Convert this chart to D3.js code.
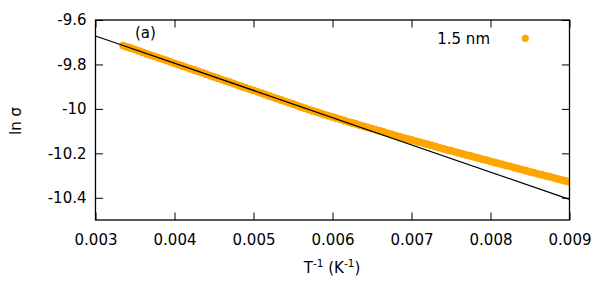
<!DOCTYPE html>
<html>
<head>
<meta charset="utf-8">
<script src="https://cdn.jsdelivr.net/npm/d3@7"></script>
<style>
  body { margin: 0; background: #fff; }
  svg text { font-family: "DejaVu Sans", sans-serif; fill: #000; }
</style>
</head>
<body>
<svg id="chart" width="600" height="300"></svg>
<script>
// ---- data ----
const xTicks = [0.003, 0.004, 0.005, 0.006, 0.007, 0.008, 0.009];
const xTickLabels = ["0.003", "0.004", "0.005", "0.006", "0.007", "0.008", "0.009"];
const yTicks = [-9.6, -9.8, -10, -10.2, -10.4];
const yTickLabels = ["-9.6", "-9.8", "-10", "-10.2", "-10.4"];
const seriesName = "1.5 nm";
const panelLabel = "(a)";

const invT = [
  0.00335, 0.00340, 0.00345, 0.00350, 0.00355, 0.00360, 0.00365, 0.00370, 0.00375, 0.00380,
  0.00385, 0.00390, 0.00395, 0.00400, 0.00405, 0.00410, 0.00415, 0.00420, 0.00425, 0.00430,
  0.00435, 0.00440, 0.00445, 0.00450, 0.00455, 0.00460, 0.00465, 0.00470, 0.00475, 0.00480,
  0.00485, 0.00490, 0.00495, 0.00500, 0.00505, 0.00510, 0.00515, 0.00520, 0.00525, 0.00530,
  0.00535, 0.00540, 0.00545, 0.00550, 0.00555, 0.00560, 0.00565, 0.00570, 0.00575, 0.00580,
  0.00585, 0.00590, 0.00595, 0.00600, 0.00605, 0.00610, 0.00615, 0.00620, 0.00625, 0.00630,
  0.00635, 0.00640, 0.00645, 0.00650, 0.00655, 0.00660, 0.00665, 0.00670, 0.00675, 0.00680,
  0.00685, 0.00690, 0.00695, 0.00700, 0.00705, 0.00710, 0.00715, 0.00720, 0.00725, 0.00730,
  0.00735, 0.00740, 0.00745, 0.00750, 0.00755, 0.00760, 0.00765, 0.00770, 0.00775, 0.00780,
  0.00785, 0.00790, 0.00795, 0.00800, 0.00805, 0.00810, 0.00815, 0.00820, 0.00825, 0.00830,
  0.00835, 0.00840, 0.00845, 0.00850, 0.00855, 0.00860, 0.00865, 0.00870, 0.00875, 0.00880,
  0.00885, 0.00890, 0.00895, 0.00900
];
const lnSigma = [
  -9.715, -9.721, -9.727, -9.733, -9.739, -9.746, -9.752, -9.758, -9.764, -9.770,
  -9.776, -9.782, -9.788, -9.795, -9.801, -9.807, -9.813, -9.819, -9.825, -9.831,
  -9.837, -9.844, -9.850, -9.856, -9.862, -9.868, -9.874, -9.880, -9.886, -9.893,
  -9.899, -9.905, -9.911, -9.917, -9.923, -9.929, -9.935, -9.942, -9.948, -9.954,
  -9.960, -9.966, -9.972, -9.978, -9.984, -9.991, -9.997, -10.003, -10.009, -10.014,
  -10.020, -10.026, -10.031, -10.036, -10.042, -10.047, -10.053, -10.058, -10.063, -10.068,
  -10.074, -10.079, -10.084, -10.089, -10.094, -10.099, -10.104, -10.110, -10.115, -10.120,
  -10.125, -10.130, -10.135, -10.140, -10.145, -10.150, -10.154, -10.159, -10.164, -10.169,
  -10.174, -10.179, -10.184, -10.188, -10.193, -10.198, -10.203, -10.208, -10.212, -10.217,
  -10.222, -10.227, -10.231, -10.236, -10.241, -10.245, -10.250, -10.255, -10.259, -10.264,
  -10.269, -10.273, -10.278, -10.283, -10.287, -10.292, -10.296, -10.301, -10.305, -10.310,
  -10.315, -10.319, -10.324, -10.328
];
// linear fit line endpoints
const fitX = [0.003, 0.009];
const fitY = [-9.672, -10.407];

// ---- layout ----
const W = 600, H = 300;
const L = 95.5, R = 569.5, T = 20, B = 220;
const svg = d3.select("#chart");

const x = d3.scaleLinear().domain([0.003, 0.009]).range([L, R]);
const y = d3.scaleLinear().domain([-10.5, -9.6]).range([B, T]);

svg.append("defs").append("clipPath").attr("id", "clip")
  .append("rect").attr("x", L).attr("y", T).attr("width", R - L).attr("height", B - T);

const fs = 15;
const tickLen = 7.5;

// axes (ticks inward, labels outside)
const xAxisB = d3.axisBottom(x).tickValues(xTicks).tickSize(-tickLen).tickPadding(14)
  .tickFormat((d, i) => xTickLabels[i]);
const gxb = svg.append("g").attr("transform", `translate(0,${B})`).call(xAxisB);
const xAxisT = d3.axisTop(x).tickValues(xTicks).tickSize(-tickLen).tickFormat("");
const gxt = svg.append("g").attr("transform", `translate(0,${T})`).call(xAxisT);
const yAxisL = d3.axisLeft(y).tickValues(yTicks).tickSize(-tickLen).tickPadding(9)
  .tickFormat((d, i) => yTickLabels[i]);
const gyl = svg.append("g").attr("transform", `translate(${L},0)`).call(yAxisL);
const yAxisR = d3.axisRight(y).tickValues(yTicks).tickSize(-tickLen).tickFormat("");
const gyr = svg.append("g").attr("transform", `translate(${R},0)`).call(yAxisR);

[gxb, gxt, gyl, gyr].forEach(g => {
  g.select(".domain").remove();
  g.selectAll(".tick line").attr("stroke", "#000").attr("stroke-width", 1);
  g.selectAll("text").attr("font-size", fs).attr("font-family", "DejaVu Sans, sans-serif").attr("fill", "#000");
});

// data points
svg.append("g").attr("clip-path", "url(#clip)")
  .selectAll("circle").data(invT).join("circle")
  .attr("cx", d => x(d))
  .attr("cy", (d, i) => y(lnSigma[i]))
  .attr("r", 3.9)
  .attr("fill", "#FFA500");

// fit line
svg.append("path")
  .attr("clip-path", "url(#clip)")
  .datum(fitX.map((d, i) => [d, fitY[i]]))
  .attr("d", d3.line().x(d => x(d[0])).y(d => y(d[1])))
  .attr("fill", "none").attr("stroke", "#000").attr("stroke-width", 1.3);

// frame
svg.append("rect").attr("x", L).attr("y", T).attr("width", R - L).attr("height", B - T)
  .attr("fill", "none").attr("stroke", "#000").attr("stroke-width", 1.3);

// panel label
svg.append("text").attr("x", 135).attr("y", 38).attr("font-size", fs).text(panelLabel);

// legend
svg.append("text").attr("x", 490).attr("y", 44).attr("text-anchor", "end").attr("font-size", fs).text(seriesName);
svg.append("circle").attr("cx", 525.3).attr("cy", 38.3).attr("r", 3.6).attr("fill", "#FFA500");

// axis titles
const xt = svg.append("text").attr("x", 332).attr("y", 273).attr("text-anchor", "middle").attr("font-size", fs);
xt.append("tspan").text("T");
xt.append("tspan").attr("dy", -6).attr("font-size", 10.5).text("-1");
xt.append("tspan").attr("dy", 6).text(" (K");
xt.append("tspan").attr("dy", -6).attr("font-size", 10.5).text("-1");
xt.append("tspan").attr("dy", 6).text(")");

svg.append("text").attr("transform", "translate(21,121) rotate(-90)")
  .attr("text-anchor", "middle").attr("font-size", fs).text("ln σ");
</script>
</body>
</html>
